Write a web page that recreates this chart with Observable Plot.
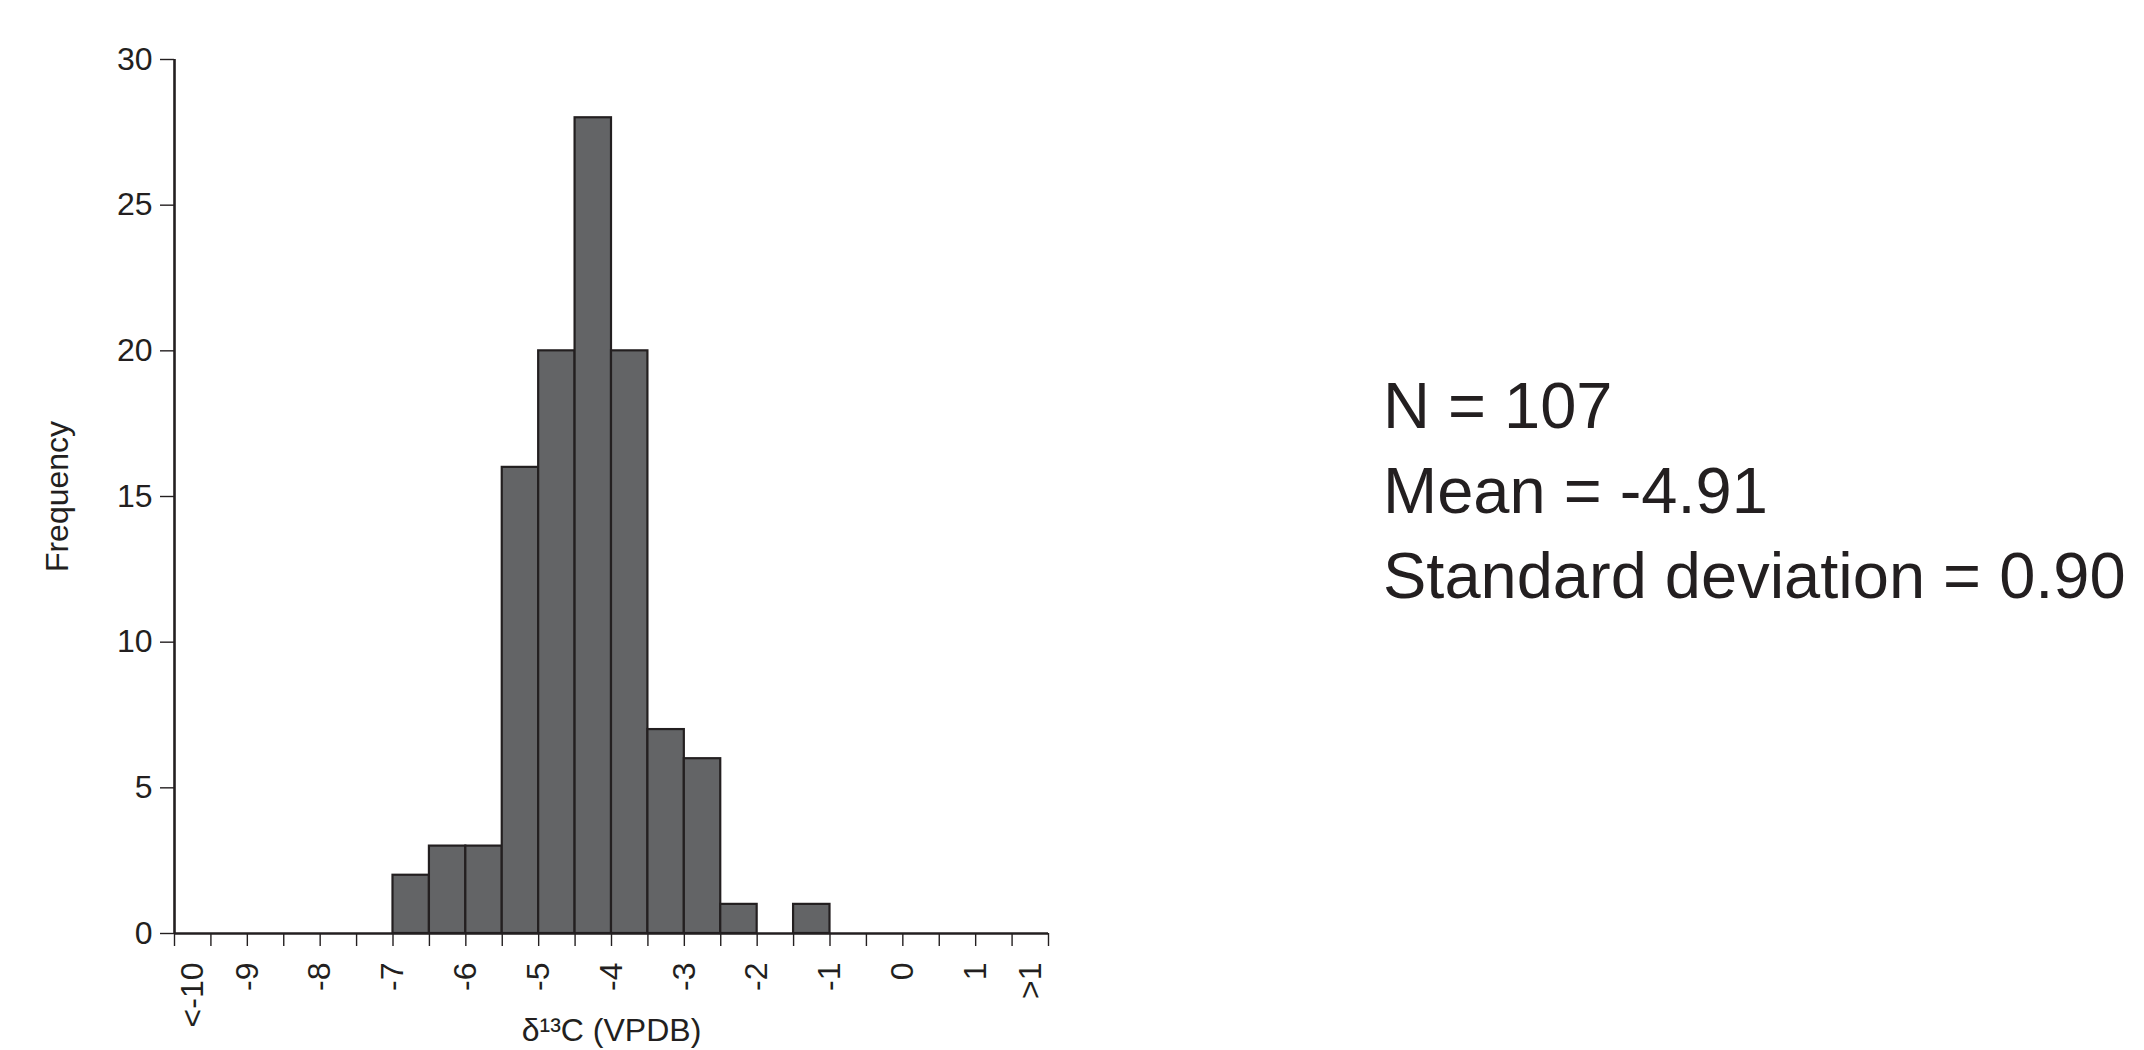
<!DOCTYPE html>
<html>
<head>
<meta charset="utf-8">
<script src="https://cdn.jsdelivr.net/npm/d3@7"></script>
<script src="https://cdn.jsdelivr.net/npm/@observablehq/plot@0.6"></script>
<style>
  html, body { margin: 0; padding: 0; background: #fff; }
  #wrap { position: relative; width: 2144px; height: 1050px; overflow: hidden; background: #fff; }
  #chart { position: absolute; left: 0; top: 0; }
  #stats {
    position: absolute; left: 1383px; top: 363px;
    font-family: "Liberation Sans", Arial, sans-serif;
    font-size: 65px; line-height: 85px; color: #231f20; white-space: nowrap;
  }
</style>
</head>
<body>
<div id="wrap">
  <div id="chart"></div>
  <div id="stats"></div>
</div>
<script>
// Histogram bins (lower edges, width 0.5) and frequencies
const binLower = [-10, -9.5, -9, -8.5, -8, -7.5, -7, -6.5, -6, -5.5, -5, -4.5, -4, -3.5, -3, -2.5, -2, -1.5, -1, -0.5, 0, 0.5, 1, 1.5];
const binUpper = [-9.5, -9, -8.5, -8, -7.5, -7, -6.5, -6, -5.5, -5, -4.5, -4, -3.5, -3, -2.5, -2, -1.5, -1, -0.5, 0, 0.5, 1, 1.5, 2];
const counts   = [0, 0, 0, 0, 0, 0, 2, 3, 3, 16, 20, 28, 20, 7, 6, 1, 0, 1, 0, 0, 0, 0, 0, 0];

// Axis ticks and labels
const binEdges = [-10, -9.5, -9, -8.5, -8, -7.5, -7, -6.5, -6, -5.5, -5, -4.5, -4, -3.5, -3, -2.5, -2, -1.5, -1, -0.5, 0, 0.5, 1, 1.5, 2];
const xTickValues = [-9.75, -9, -8, -7, -6, -5, -4, -3, -2, -1, 0, 1, 1.75];
const xTickLabels = ["<-10", "-9", "-8", "-7", "-6", "-5", "-4", "-3", "-2", "-1", "0", "1", ">1"];
const yTicks = [0, 5, 10, 15, 20, 25, 30];
const xTitle = "δ¹³C (VPDB)";
const yTitle = "Frequency";

// Summary statistics
const statLines = ["N = 107", "Mean = -4.91", "Standard deviation = 0.90"];

const bins = binLower.map((x1, i) => ({x1, x2: binUpper[i], count: counts[i]})).filter(d => d.count > 0);

const ink = "#231f20";
const chart = Plot.plot({
  width: 1100,
  height: 1050,
  marginLeft: 174,
  marginRight: 52,
  marginTop: 59,
  marginBottom: 117,
  style: {fontFamily: "'Liberation Sans', Arial, sans-serif", fontSize: "32px", color: ink, background: "white"},
  x: {domain: [-10, 2]},
  y: {domain: [0, 30]},
  marks: [
    Plot.rectY(bins, {x1: "x1", x2: "x2", y: "count", fill: "#636466", stroke: ink, strokeWidth: 2.2, inset: 0}),
    Plot.axisX(binEdges, {tickSize: 13, tickFormat: () => "", label: null, stroke: ink, strokeWidth: 1.4}),
    Plot.axisX(xTickValues, {
      tickSize: 0, tickRotate: -90, tickPadding: 29,
      tickFormat: d => xTickLabels[xTickValues.indexOf(d)],
      label: xTitle, labelAnchor: "center", labelOffset: 107, labelArrow: "none"
    }),
    Plot.axisY(yTicks, {
      tickSize: 14, tickPadding: 8, stroke: ink, strokeWidth: 1.4,
      label: yTitle, labelAnchor: "center", labelOffset: 129, labelArrow: "none"
    }),
    Plot.ruleY([0], {stroke: ink, strokeWidth: 2.6}),
    Plot.ruleX([-10], {stroke: ink, strokeWidth: 2.6})
  ]
});
document.getElementById("chart").appendChild(chart);

const stats = document.getElementById("stats");
statLines.forEach(t => {
  const div = document.createElement("div");
  div.textContent = t;
  stats.appendChild(div);
});
</script>
</body>
</html>
